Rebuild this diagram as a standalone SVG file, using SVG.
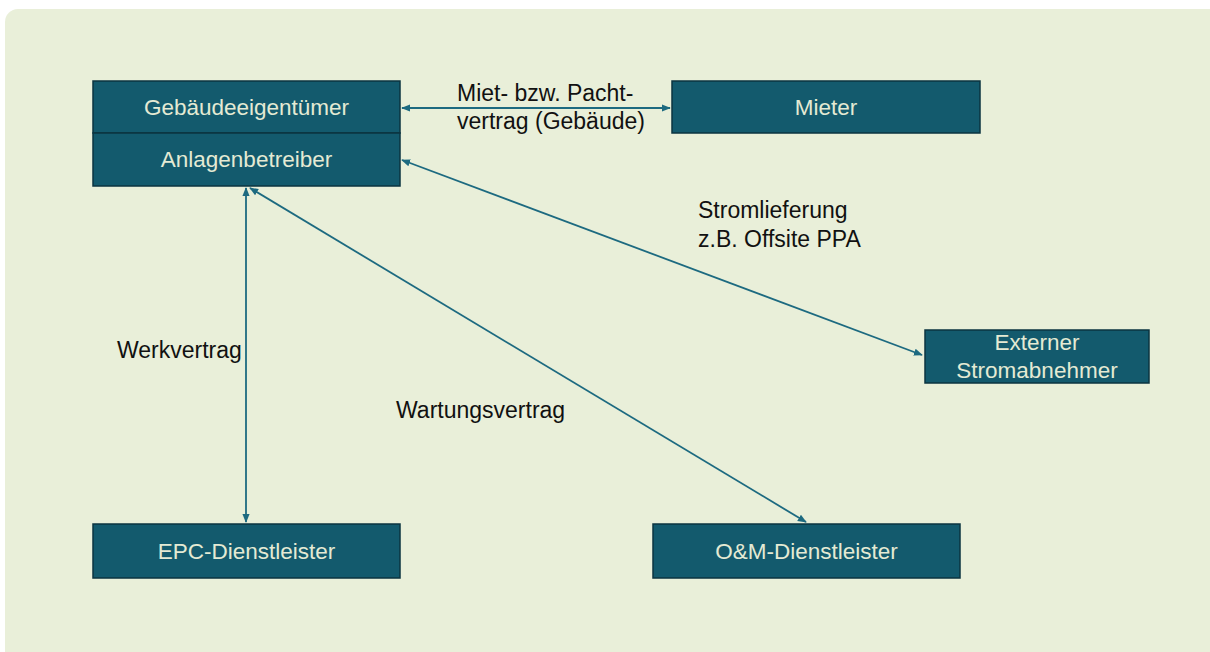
<svg xmlns="http://www.w3.org/2000/svg" width="1210" height="652" viewBox="0 0 1210 652">
  <style>
    .node rect { fill: #135a6d; stroke: #0b3440; stroke-width: 1.5; }
    .node text { fill: #e4ead4; font-family: "Liberation Sans", Arial, sans-serif; font-size: 22.5px; text-anchor: middle; }
    .conn { stroke: #1d6a80; stroke-width: 1.8; fill: none; marker-start: url(#arr); marker-end: url(#arr); }
    .lbl { fill: #111; font-family: "Liberation Sans", Arial, sans-serif; font-size: 23px; }
  </style>
  <defs>
    <marker id="arr" viewBox="0 0 10 10" refX="9" refY="5" markerWidth="5" markerHeight="5" orient="auto-start-reverse" markerUnits="strokeWidth">
      <path d="M0,1 L10,5 L0,9 Z" fill="#1d6a80"/>
    </marker>
  </defs>
  <rect width="1210" height="652" fill="#ffffff"/>
  <rect x="5" y="9" width="1217" height="655" rx="13" fill="#e9efd9"/>

  <g id="connectors">
    <line class="conn" x1="402" y1="108" x2="670" y2="108"/>
    <line class="conn" x1="402" y1="160" x2="922" y2="355"/>
    <line class="conn" x1="246" y1="188" x2="246" y2="522"/>
    <line class="conn" x1="250" y1="188" x2="806" y2="522"/>
  </g>

  <g id="labels">
    <text class="lbl" x="457" y="101">Miet- bzw. Pacht-</text>
    <text class="lbl" x="457" y="129">vertrag (Gebäude)</text>
    <text class="lbl" x="698" y="218">Stromlieferung</text>
    <text class="lbl" x="698" y="247">z.B. Offsite PPA</text>
    <text class="lbl" x="117" y="358">Werkvertrag</text>
    <text class="lbl" x="396" y="418">Wartungsvertrag</text>
  </g>

  <g id="gebaeudeeigentuemer" class="node">
    <rect x="93" y="81" width="307" height="52"/>
    <text x="246.5" y="115">Gebäudeeigentümer</text>
  </g>
  <g id="anlagenbetreiber" class="node">
    <rect x="93" y="133" width="307" height="53"/>
    <text x="246.5" y="167">Anlagenbetreiber</text>
  </g>
  <g id="mieter" class="node">
    <rect x="672" y="81" width="308" height="52"/>
    <text x="826" y="115">Mieter</text>
  </g>
  <g id="externer-stromabnehmer" class="node">
    <rect x="925" y="330" width="224" height="53"/>
    <text x="1037" y="350">Externer</text>
    <text x="1037" y="378">Stromabnehmer</text>
  </g>
  <g id="epc-dienstleister" class="node">
    <rect x="93" y="524" width="307" height="54"/>
    <text x="246.5" y="559">EPC-Dienstleister</text>
  </g>
  <g id="om-dienstleister" class="node">
    <rect x="653" y="524" width="307" height="54"/>
    <text x="806.5" y="559">O&amp;M-Dienstleister</text>
  </g>
</svg>
